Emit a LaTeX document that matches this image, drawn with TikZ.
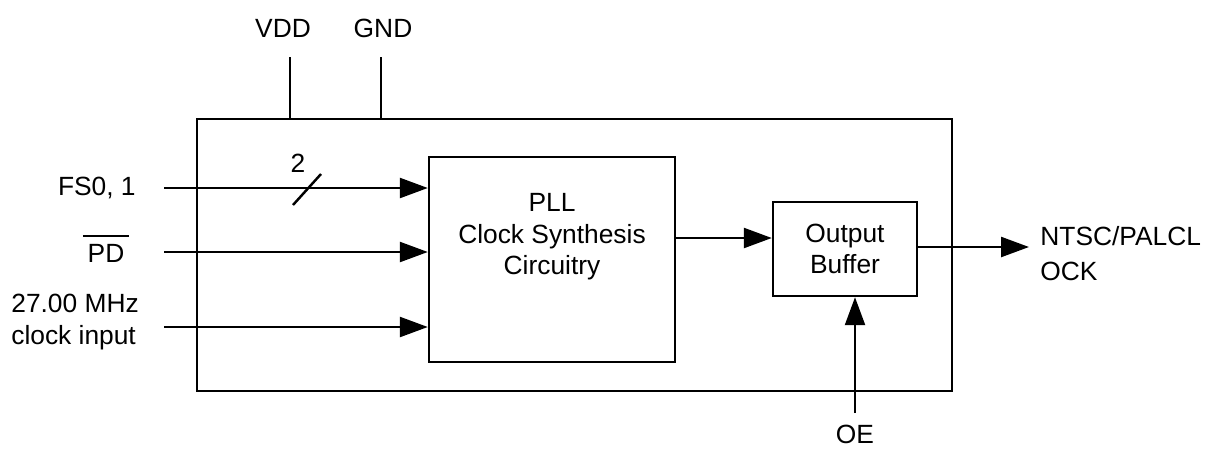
\documentclass[tikz,border=0pt]{standalone}
\usepackage{fontspec}
\setmainfont{Liberation Sans}
\usetikzlibrary{arrows.meta, positioning}
\tikzset{
  every node/.style={font=\fontsize{15}{18}\selectfont},
  chip/.style={draw=black, line width=1.4pt, minimum width=15.1cm,
    minimum height=5.44cm, inner sep=0pt},
  block/.style={draw=black, line width=1.4pt, align=center, inner sep=0pt},
  lbl/.style={inner sep=0pt, align=left},
  pin/.style={line width=1.4pt},
  arr/.style={-{Triangle[length=5.6mm,width=4mm]}, line width=1.4pt},
}
\begin{document}
\begin{tikzpicture}[x=0.02cm, y=-0.02cm]
  \useasboundingbox (0,0) rectangle (1209,450);

  % Chip outline and inner blocks
  \node[chip] (chip) at (574.5,255) {};
  \node[block, minimum width=4.92cm, minimum height=4.1cm] (pll) at (552,259.5) {};
  \node[align=center, inner sep=0pt] (plltext) at (552,237)
    {PLL\\Clock Synthesis\\Circuitry};
  \node[block, minimum width=2.88cm, minimum height=1.88cm] (buf) at (845,249)
    {Output\\Buffer};

  % Supply pins
  \node[lbl] (vdd) at (283,28) {VDD};
  \node[lbl] (gnd) at (383,28) {GND};
  \coordinate (vddpin) at (290,57);
  \coordinate (gndpin) at (381,57);
  \draw[pin] (vddpin) -- (vddpin |- chip.north);
  \draw[pin] (gndpin) -- (gndpin |- chip.north);

  % Input labels
  \node[lbl, anchor=east] (fs) at (136,188) {FS0, 1};
  \node[lbl, inner xsep=2.5pt] (pd) at (106,253) {PD};
  \draw[line width=1.2pt] ([yshift=4.5pt]pd.north west) -- ([yshift=4.5pt]pd.north east);
  \node[lbl, anchor=west] (clk) at (11,322) {27.00 MHz\\clock input};

  % Input arrows
  \coordinate (fsin) at (164,188);
  \coordinate (pdin) at (164,252);
  \coordinate (clkin) at (164,327);
  \draw[arr] (fsin) -- (fsin -| pll.west);
  \draw[arr] (pdin) -- (pdin -| pll.west);
  \draw[arr] (clkin) -- (clkin -| pll.west);

  % Bus width mark
  \draw[pin] (293,205) -- (321,174);
  \node[lbl] (buswidth) at (298,163) {2};

  % PLL to buffer, buffer to output
  \coordinate (pllout) at (675,238);
  \draw[arr] (pllout) -- (pllout -| buf.west);
  \coordinate (clkout) at (1029,247);
  \draw[arr] (clkout -| buf.east) -- (clkout);
  \node[lbl, anchor=west] (ntsc) at (1040,253.5) {NTSC/PALCL\\[2pt]OCK};

  % Output enable
  \coordinate (oein) at (855,413);
  \draw[arr] (oein) -- (oein |- buf.south);
  \node[lbl] (oe) at (855,434) {OE};
\end{tikzpicture}
\end{document}
